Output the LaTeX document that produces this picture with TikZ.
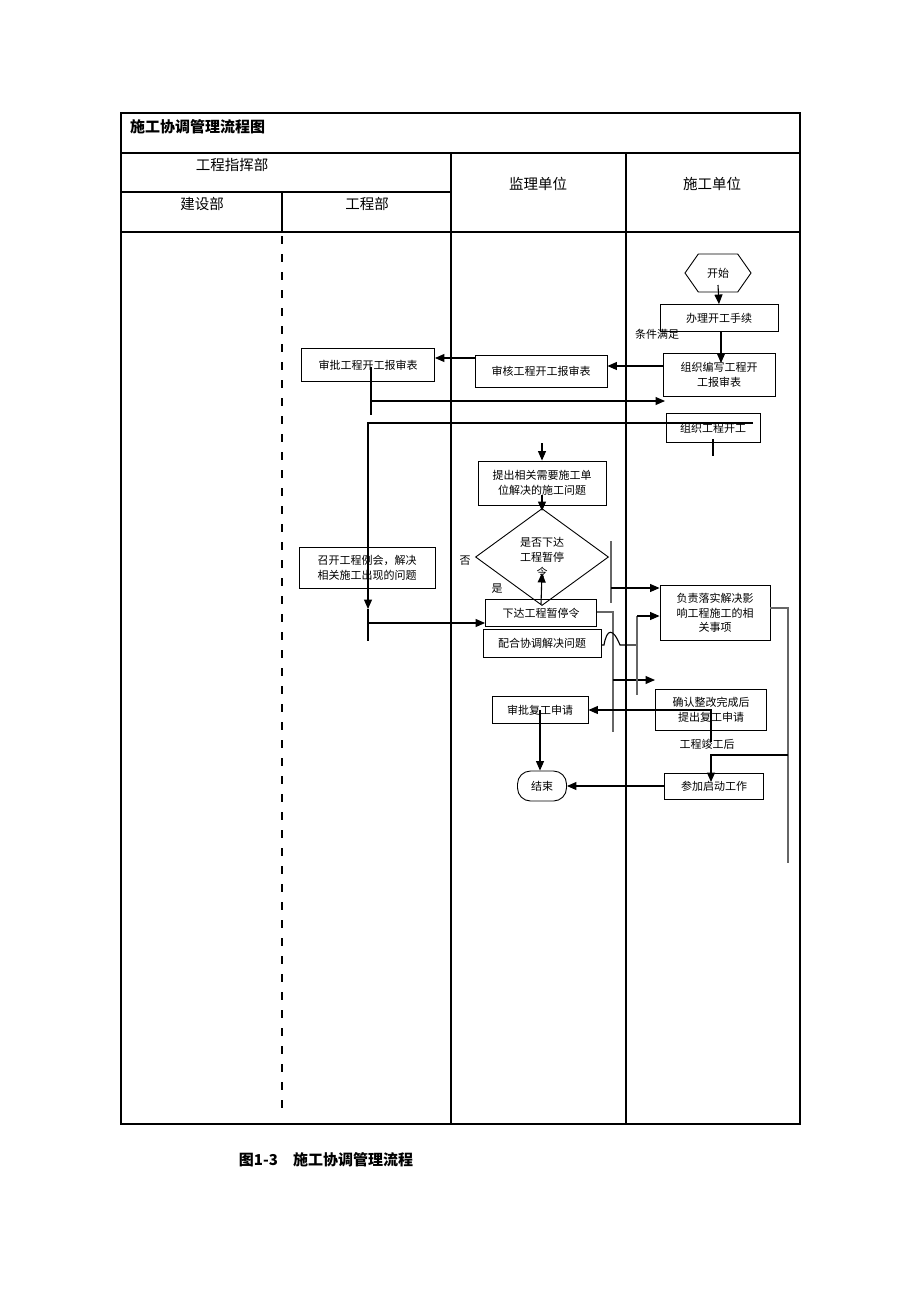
\documentclass[tikz,border=0pt]{standalone}
\usepackage{fontspec}
\setmainfont{Noto Sans CJK SC}
\usetikzlibrary{arrows.meta,shapes.geometric,shapes.symbols}

\begin{document}
\begin{tikzpicture}[x=1pt,y=-1pt,
  box/.style={draw,line width=0.9pt,align=center,inner sep=1pt,font={\fontsize{11}{14.5}\selectfont}},
  lbl/.style={font={\fontsize{11}{14}\selectfont},inner sep=0pt},
  head/.style={font={\fontsize{14.5}{16}\selectfont},inner sep=0pt},
  frame/.style={line width=2pt},
  link/.style={line width=1.1pt},
  gline/.style={line width=1.2pt,black!60},
  arr/.style={link,-{Triangle[length=9.5pt,width=8pt]}}]
\useasboundingbox (0,0) rectangle (920,1302);

% table frame
\draw[frame] (121,113) rectangle (800,1124);
\draw[frame] (121,153) -- (800,153);
\draw[frame] (121,232) -- (800,232);
\draw[frame] (121,192) -- (451,192);
\draw[frame] (451,153) -- (451,1124);
\draw[frame] (626,153) -- (626,1124);
\draw[frame] (282,192) -- (282,232);
\draw[line width=2pt,dash pattern=on 8pt off 10pt] (282,236) -- (282,1115);

\node[anchor=west,inner sep=0pt,font={\fontsize{15}{16}\selectfont\bfseries}] (title) at (130,127) {施工协调管理流程图};
\node[head] (zhihui) at (232,165) {工程指挥部};
\node[head] (jianshe) at (202,204) {建设部};
\node[head] (gongcheng) at (367,204) {工程部};
\node[head] (jianli) at (538,184) {监理单位};
\node[head] (shigong) at (712,184) {施工单位};

% nodes
\node[draw,signal,signal to=west and east,signal pointer angle=110,minimum width=66,minimum height=38,line width=0.9pt,font={\fontsize{11}{14}\selectfont}] (start) at (718,273) {开始};
\node[box,minimum width=118,minimum height=27] (banli) at (719,318) {办理开工手续};
\node[box,minimum width=112,minimum height=43] (bianxie) at (719,375) {组织编写工程开\\工报审表};
\node[box,minimum width=132,minimum height=32] (shenhe) at (541,371) {审核工程开工报审表};
\node[box,minimum width=133,minimum height=33] (shenpi) at (368,365) {审批工程开工报审表};
\node[box,minimum width=94,minimum height=29] (kaigong) at (713,428) {组织工程开工};
\node[box,minimum width=128,minimum height=44] (tichu) at (542,483) {提出相关需要施工单\\位解决的施工问题};
\node[draw,diamond,minimum width=133,minimum height=97,inner sep=0pt,align=center,line width=0.9pt,font={\fontsize{11}{15}\selectfont}] (pan) at (542,557) {是否下达\\工程暂停\\令};
\node[box,minimum width=136,minimum height=41] (zhaokai) at (367,568) {召开工程例会，解决\\相关施工出现的问题};
\node[box,minimum width=111,minimum height=27] (xiada) at (541,613) {下达工程暂停令};
\node[box,minimum width=118,minimum height=28] (peihe) at (542,643) {配合协调解决问题};
\node[box,minimum width=110,minimum height=55] (fuze) at (715,613) {负责落实解决影\\响工程施工的相\\关事项};
\node[box,minimum width=111,minimum height=41] (queren) at (711,710) {确认整改完成后\\提出复工申请};
\node[box,minimum width=96,minimum height=27] (fugong) at (540,710) {审批复工申请};
\node[box,rounded corners=13pt,minimum width=49,minimum height=30] (jieshu) at (542,786) {结束};
\node[box,minimum width=99,minimum height=26] (canjia) at (714,786) {参加启动工作};

\node[lbl] (manzu) at (657,334) {条件满足};
\node[lbl] (jungong) at (707,744) {工程竣工后};
\node[lbl] (fou) at (465,561) {否};
\node[lbl] (shi) at (497,589) {是};

% connectors
\draw[arr] ([yshift=-12pt]start.center) -- (banli.north);
\draw[arr] (banli.south -| 721,0) -- ([yshift=-10pt]bianxie.north -| 721,0);
\draw[arr] (bianxie.west |- 0,366) -- (shenhe.east |- 0,366);
\draw[arr] (shenhe.west |- 0,358) -- (shenpi.east |- 0,358);
\draw[link] ([yshift=-2pt]shenpi.center -| 371,0) -- (371,415);
\draw[arr] (371,401) -- (665,401);
\draw[arr] (753,423) -- (368,423) -- (368,609);
\draw[link] (368,609) -- (368,641);
\draw[arr] (368,623) -- (xiada.west |- 0,623);
\draw[link] (kaigong.south) ++(0,-4) -- ++(0,17);
\draw[arr] (542,443) -- (tichu.north);
\draw[arr] ([yshift=10pt]tichu.south) -- ([yshift=-3pt]pan.north);
\draw[arr] ([yshift=-5pt]xiada.north) -- (542,573);
\draw[gline] (611,541) -- (611,603);
\draw[arr] (611,588) -- (fuze.west |- 0,588);
\draw[gline] (xiada.east |- 0,612) -- (613,612) -- (613,732);
\draw[arr] (613,680) -- (655,680);
\draw[link] (peihe.east |- 0,645) -- (604,645) .. controls (607,628) and (613,628) .. (620,645) -- (637,645);
\draw[gline] (637,616) -- (637,695);
\draw[arr] (637,616) -- (fuze.west |- 0,616);
\draw[gline] (fuze.east |- 0,608) -- (788,608) -- (788,863);
\draw[arr] (788,755) -- (711,755) -- (711,782);
\draw[arr] (711,742) -- (711,710) -- (fugong.east);
\draw[arr] (fugong.center) -- (fugong.center |- jieshu.north);
\draw[arr] (canjia.west) -- (jieshu.east);

\node[inner sep=0pt,font={\fontsize{15}{16}\selectfont\bfseries}] (caption) at (326,1160) {图1-3\quad 施工协调管理流程};
\end{tikzpicture}
\end{document}
